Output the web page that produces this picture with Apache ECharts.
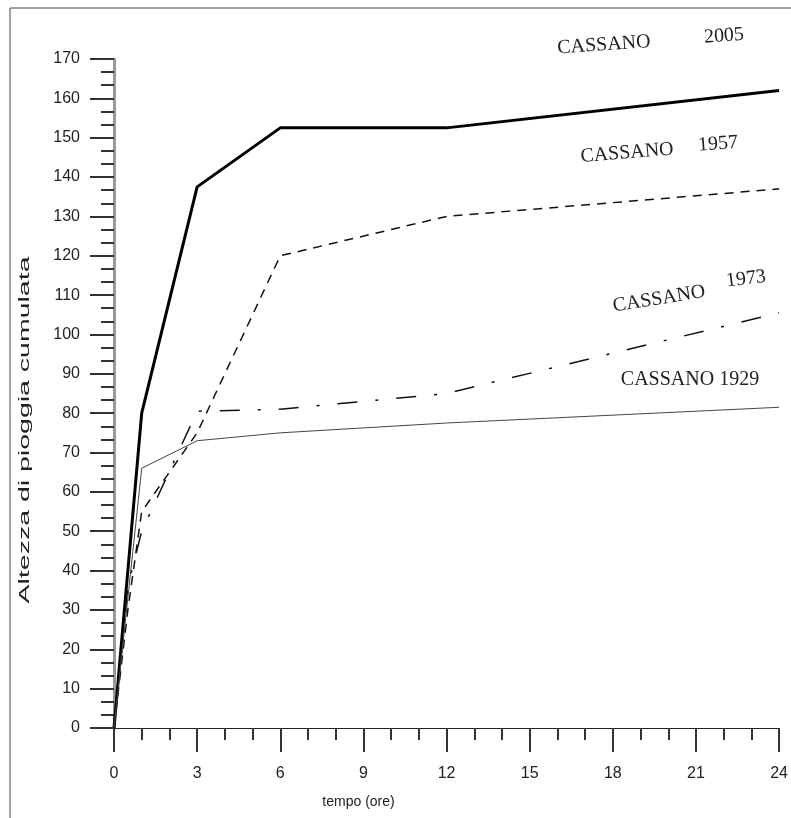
<!DOCTYPE html>
<html>
<head>
<meta charset="utf-8">
<title>Cassano - pioggia cumulata</title>
<script src="https://cdn.jsdelivr.net/npm/echarts@6/dist/echarts.min.js"></script>
<style>
  html, body { margin: 0; padding: 0; background: #fff; }
  #chart { width: 791px; height: 818px; }
</style>
</head>
<body>
<div id="chart"></div>
<script>
// ore dall'inizio dell'evento
var time = [0, 0.5, 1, 3, 6, 12, 24];
// altezza di pioggia cumulata (mm)
var rain2005 = [0, 40, 80, 137.5, 152.5, 152.5, 162];
var rain1957 = [0, 30, 55, 75, 120, 130, 137];
var rain1973 = [0, 36, 50, 80.5, 81, 85, 105.5];
var rain1929 = [0, 33, 66, 73, 75, 77.5, 81.5];

function pairs(values) {
  return time.map(function (t, i) { return [t, values[i]]; });
}

var chart = echarts.init(document.getElementById('chart'));

var sansFont = 'Liberation Sans, Arial, sans-serif';
var noteFont = 'Liberation Serif, Times New Roman, serif';
var tickStyle = { color: '#333', width: 2 };
var labelFont = { color: '#222', fontSize: 16, fontFamily: sansFont };

function note(text, x, y, rotation) {
  return {
    type: 'text', x: x, y: y, rotation: rotation || 0,
    style: { text: text, fontSize: 20, fontFamily: noteFont, fill: '#222', align: 'center', verticalAlign: 'middle' }
  };
}

var option = {
  backgroundColor: '#fff',
  animation: false,
  grid: {
    left: 114,
    right: 8,
    top: 59,
    bottom: 90
  },
  xAxis: {
    type: 'value',
    min: 0,
    max: 24,
    interval: 3,
    name: 'tempo (ore)',
    nameLocation: 'middle',
    nameGap: 67,
    nameTextStyle: { color: '#222', fontSize: 14, fontFamily: sansFont, padding: [0, 176, 0, 0] },
    axisLine: { show: true, onZero: false, lineStyle: { color: '#222', width: 1 } },
    axisTick: { show: true, inside: false, length: 24, lineStyle: tickStyle },
    minorTick: { show: true, splitNumber: 3, length: 12, lineStyle: tickStyle },
    axisLabel: Object.assign({ margin: 38 }, labelFont),
    splitLine: { show: false }
  },
  yAxis: {
    type: 'value',
    min: 0,
    max: 170,
    interval: 10,
    axisLine: { show: true, onZero: false, lineStyle: { color: '#999', width: 3 } },
    axisTick: { show: true, inside: false, length: 24, lineStyle: tickStyle },
    minorTick: { show: true, splitNumber: 3, length: 13, lineStyle: tickStyle },
    axisLabel: Object.assign({ margin: 34 }, labelFont),
    splitLine: { show: false }
  },
  series: [
    {
      name: 'CASSANO 2005',
      type: 'line',
      data: pairs(rain2005),
      symbol: 'none',
      lineStyle: { color: '#000', width: 3, type: 'solid' }
    },
    {
      name: 'CASSANO 1957',
      type: 'line',
      data: pairs(rain1957),
      symbol: 'none',
      lineStyle: { color: '#111', width: 1.5, type: [9, 7] }
    },
    {
      name: 'CASSANO 1973',
      type: 'line',
      data: pairs(rain1973),
      symbol: 'none',
      lineStyle: { color: '#111', width: 1.5, type: [20, 18, 3, 18] }
    },
    {
      name: 'CASSANO 1929',
      type: 'line',
      data: pairs(rain1929),
      symbol: 'none',
      lineStyle: { color: '#444', width: 1, type: 'solid' }
    }
  ],
  graphic: [
    {
      type: 'rect',
      silent: true,
      shape: { x: 10, y: 8, width: 800, height: 830 },
      style: { fill: 'none', stroke: '#444', lineWidth: 1 }
    },
    // titolo asse y, allungato come nell'originale
    {
      type: 'text', x: 25, y: 430, rotation: Math.PI / 2, scaleX: 1.9,
      style: { text: 'Altezza di pioggia cumulata', fontSize: 15, fontFamily: sansFont, fill: '#222', align: 'center', verticalAlign: 'middle' }
    },
    /* etichette delle curve */
    note('CASSANO', 604, 45, 0.07),
    note('2005', 724, 36, 0.07),
    note('CASSANO', 627, 153, 0.08),
    note('1957', 718, 144, 0.08),
    note('CASSANO', 659, 299, 0.16),
    note('1973', 746, 279, 0.12),
    note('CASSANO 1929', 690, 380)
  ]
};

option && chart.setOption(option);
</script>
</body>
</html>
